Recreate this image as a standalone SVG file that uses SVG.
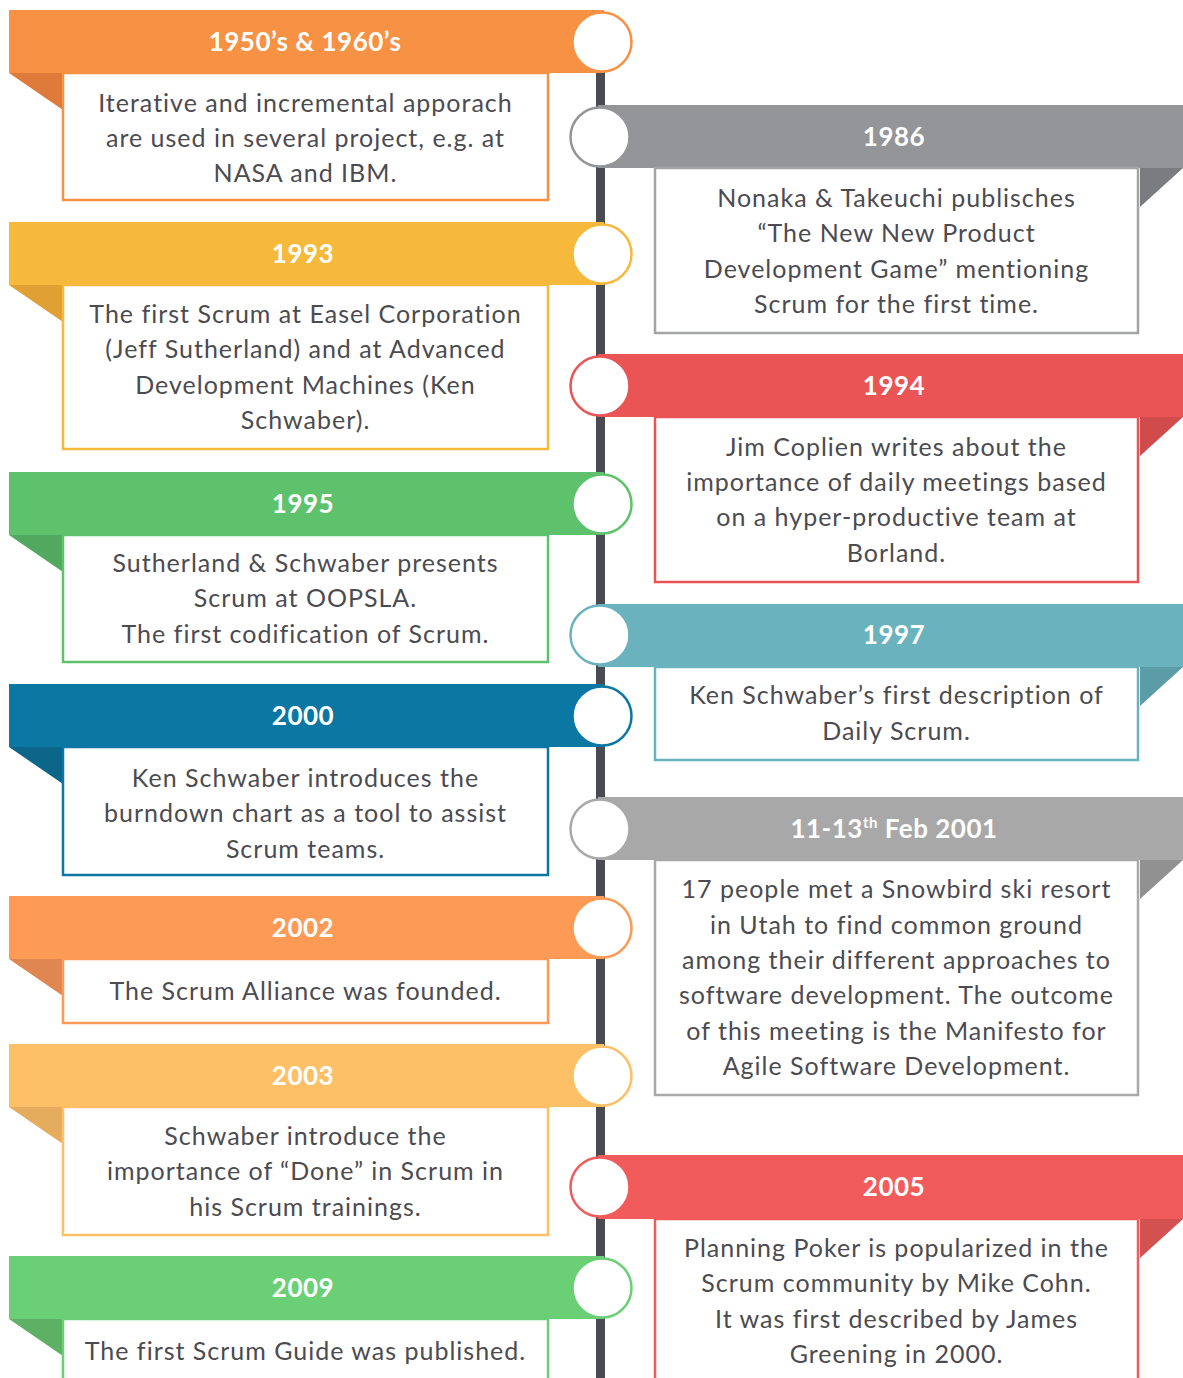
<svg xmlns="http://www.w3.org/2000/svg" width="1183" height="1378" viewBox="0 0 1183 1378">
  <style>
    .hd { font-family: Lato, "Open Sans", "Liberation Sans", sans-serif; font-weight: 700; font-size: 26px; letter-spacing: 0.5px; fill: #ffffff; text-anchor: middle; }
    .tx { font-family: Lato, "Open Sans", "Liberation Sans", sans-serif; font-size: 25px; letter-spacing: 1px; fill: #4b4b50; text-anchor: middle; }
    .box { fill: #ffffff; stroke-width: 2.5; }
    .dot { fill: #ffffff; stroke-width: 2.5; }
  </style>
  <rect width="1183" height="1378" fill="#ffffff"/>

  <!-- timeline spine -->
  <g id="connectors">
    <rect x="596" y="70" width="9" height="1308" fill="#4a4b50"/>
  </g>

  <!-- left-hand events -->
  <g id="e1950">
    <rect x="9" y="10" width="595" height="63" fill="#F79144"/>
    <polygon points="9,73 63,73 63,110" fill="#DE7B3A"/>
    <rect class="box" x="63" y="73" width="485" height="127" stroke="#F79144"/>
    <circle class="dot" cx="602" cy="42" r="29.5" stroke="#F79144"/>
    <text class="hd" x="305" y="51">1950’s &amp; 1960’s</text>
    <text class="tx" x="305.5" y="112">Iterative and incremental apporach</text>
    <text class="tx" x="305.5" y="147">are used in several project, e.g. at</text>
    <text class="tx" x="305.5" y="182">NASA and IBM.</text>
  </g>

  <g id="e1993">
    <rect x="9" y="222" width="595" height="63" fill="#F7B93C"/>
    <polygon points="9,285 63,285 63,322" fill="#E0A034"/>
    <rect class="box" x="63" y="285" width="485" height="164" stroke="#F7B93C"/>
    <circle class="dot" cx="602" cy="254" r="29.5" stroke="#F7B93C"/>
    <text class="hd" x="303" y="263">1993</text>
    <text class="tx" x="305.5" y="323">The first Scrum at Easel Corporation</text>
    <text class="tx" x="305.5" y="358">(Jeff Sutherland) and at Advanced</text>
    <text class="tx" x="305.5" y="394">Development Machines (Ken</text>
    <text class="tx" x="305.5" y="429">Schwaber).</text>
  </g>

  <g id="e1995">
    <rect x="9" y="472" width="595" height="63" fill="#5EC16B"/>
    <polygon points="9,535 63,535 63,572" fill="#52A85E"/>
    <rect class="box" x="63" y="535" width="485" height="127" stroke="#5EC16B"/>
    <circle class="dot" cx="602" cy="504" r="29.5" stroke="#5EC16B"/>
    <text class="hd" x="303" y="513">1995</text>
    <text class="tx" x="305.5" y="572">Sutherland &amp; Schwaber presents</text>
    <text class="tx" x="305.5" y="607">Scrum at OOPSLA.</text>
    <text class="tx" x="305.5" y="643">The first codification of Scrum.</text>
  </g>

  <g id="e2000">
    <rect x="9" y="684" width="595" height="63" fill="#0B77A3"/>
    <polygon points="9,747 63,747 63,784" fill="#0B6689"/>
    <rect class="box" x="63" y="747" width="485" height="128" stroke="#0B77A3"/>
    <circle class="dot" cx="602" cy="716" r="29.5" stroke="#0B77A3"/>
    <text class="hd" x="303" y="725">2000</text>
    <text class="tx" x="305.5" y="787">Ken Schwaber introduces the</text>
    <text class="tx" x="305.5" y="822">burndown chart as a tool to assist</text>
    <text class="tx" x="305.5" y="858">Scrum teams.</text>
  </g>

  <g id="e2002">
    <rect x="9" y="896" width="595" height="63" fill="#FD9A56"/>
    <polygon points="9,959 63,959 63,996" fill="#E08650"/>
    <rect class="box" x="63" y="959" width="485" height="64" stroke="#FD9A56"/>
    <circle class="dot" cx="602" cy="928" r="29.5" stroke="#FD9A56"/>
    <text class="hd" x="303" y="937">2002</text>
    <text class="tx" x="305.5" y="1000">The Scrum Alliance was founded.</text>
  </g>

  <g id="e2003">
    <rect x="9" y="1044" width="595" height="63" fill="#FEC066"/>
    <polygon points="9,1107 63,1107 63,1144" fill="#E5AC5E"/>
    <rect class="box" x="63" y="1107" width="485" height="128" stroke="#FEC066"/>
    <circle class="dot" cx="602" cy="1076" r="29.5" stroke="#FEC066"/>
    <text class="hd" x="303" y="1085">2003</text>
    <text class="tx" x="305.5" y="1145">Schwaber introduce the</text>
    <text class="tx" x="305.5" y="1180">importance of “Done” in Scrum in</text>
    <text class="tx" x="305.5" y="1216">his Scrum trainings.</text>
  </g>

  <g id="e2009">
    <rect x="9" y="1256" width="595" height="63" fill="#6ACF75"/>
    <polygon points="9,1319 63,1319 63,1356" fill="#5EB065"/>
    <rect class="box" x="63" y="1319" width="485" height="80" stroke="#6ACF75"/>
    <circle class="dot" cx="602" cy="1288" r="29.5" stroke="#6ACF75"/>
    <text class="hd" x="303" y="1297">2009</text>
    <text class="tx" x="305.5" y="1360">The first Scrum Guide was published.</text>
  </g>

  <!-- right-hand events -->
  <g id="e1986">
    <rect x="598" y="105" width="585" height="63" fill="#939598"/>
    <polygon points="1140,168 1183,168 1140,207" fill="#7B7C7F"/>
    <rect class="box" x="655" y="168" width="483" height="165" stroke="#A3A4A6"/>
    <circle class="dot" cx="600" cy="137" r="29.5" stroke="#939598"/>
    <text class="hd" x="894" y="146">1986</text>
    <text class="tx" x="896.5" y="207">Nonaka &amp; Takeuchi publisches</text>
    <text class="tx" x="896.5" y="242">“The New New Product</text>
    <text class="tx" x="896.5" y="278">Development Game” mentioning</text>
    <text class="tx" x="896.5" y="313">Scrum for the first time.</text>
  </g>

  <g id="e1994">
    <rect x="598" y="354" width="585" height="63" fill="#EB5454"/>
    <polygon points="1140,417 1183,417 1140,456" fill="#D04B4B"/>
    <rect class="box" x="655" y="417" width="483" height="165" stroke="#EB5454"/>
    <circle class="dot" cx="600" cy="386" r="29.5" stroke="#EB5454"/>
    <text class="hd" x="894" y="395">1994</text>
    <text class="tx" x="896.5" y="456">Jim Coplien writes about the</text>
    <text class="tx" x="896.5" y="491">importance of daily meetings based</text>
    <text class="tx" x="896.5" y="526">on a hyper-productive team at</text>
    <text class="tx" x="896.5" y="562">Borland.</text>
  </g>

  <g id="e1997">
    <rect x="598" y="604" width="585" height="63" fill="#6AB3BE"/>
    <polygon points="1140,667 1183,667 1140,706" fill="#5C9CA6"/>
    <rect class="box" x="655" y="667" width="483" height="93" stroke="#6AB3BE"/>
    <circle class="dot" cx="600" cy="635" r="29.5" stroke="#6AB3BE"/>
    <text class="hd" x="894" y="644">1997</text>
    <text class="tx" x="896.5" y="704">Ken Schwaber’s first description of</text>
    <text class="tx" x="896.5" y="740">Daily Scrum.</text>
  </g>

  <g id="e2001">
    <rect x="598" y="797" width="585" height="63" fill="#A8A8A8"/>
    <polygon points="1140,860 1183,860 1140,899" fill="#919191"/>
    <rect class="box" x="655" y="860" width="483" height="235" stroke="#A8A8A8"/>
    <circle class="dot" cx="600" cy="829" r="29.5" stroke="#A8A8A8"/>
    <text class="hd" x="894" y="838">11-13<tspan font-size="15" dy="-10">th</tspan><tspan dy="10"> Feb 2001</tspan></text>
    <text class="tx" x="896.5" y="898">17 people met a Snowbird ski resort</text>
    <text class="tx" x="896.5" y="934">in Utah to find common ground</text>
    <text class="tx" x="896.5" y="969">among their different approaches to</text>
    <text class="tx" x="896.5" y="1004">software development. The outcome</text>
    <text class="tx" x="896.5" y="1040">of this meeting is the Manifesto for</text>
    <text class="tx" x="896.5" y="1075">Agile Software Development.</text>
  </g>

  <g id="e2005">
    <rect x="598" y="1155" width="585" height="64" fill="#F15B5B"/>
    <polygon points="1140,1219 1183,1219 1140,1258" fill="#D45151"/>
    <rect class="box" x="655" y="1219" width="483" height="180" stroke="#F15B5B"/>
    <circle class="dot" cx="600" cy="1187" r="29.5" stroke="#F15B5B"/>
    <text class="hd" x="894" y="1196">2005</text>
    <text class="tx" x="896.5" y="1257">Planning Poker is popularized in the</text>
    <text class="tx" x="896.5" y="1292">Scrum community by Mike Cohn.</text>
    <text class="tx" x="896.5" y="1328">It was first described by James</text>
    <text class="tx" x="896.5" y="1363">Greening in 2000.</text>
  </g>
</svg>
